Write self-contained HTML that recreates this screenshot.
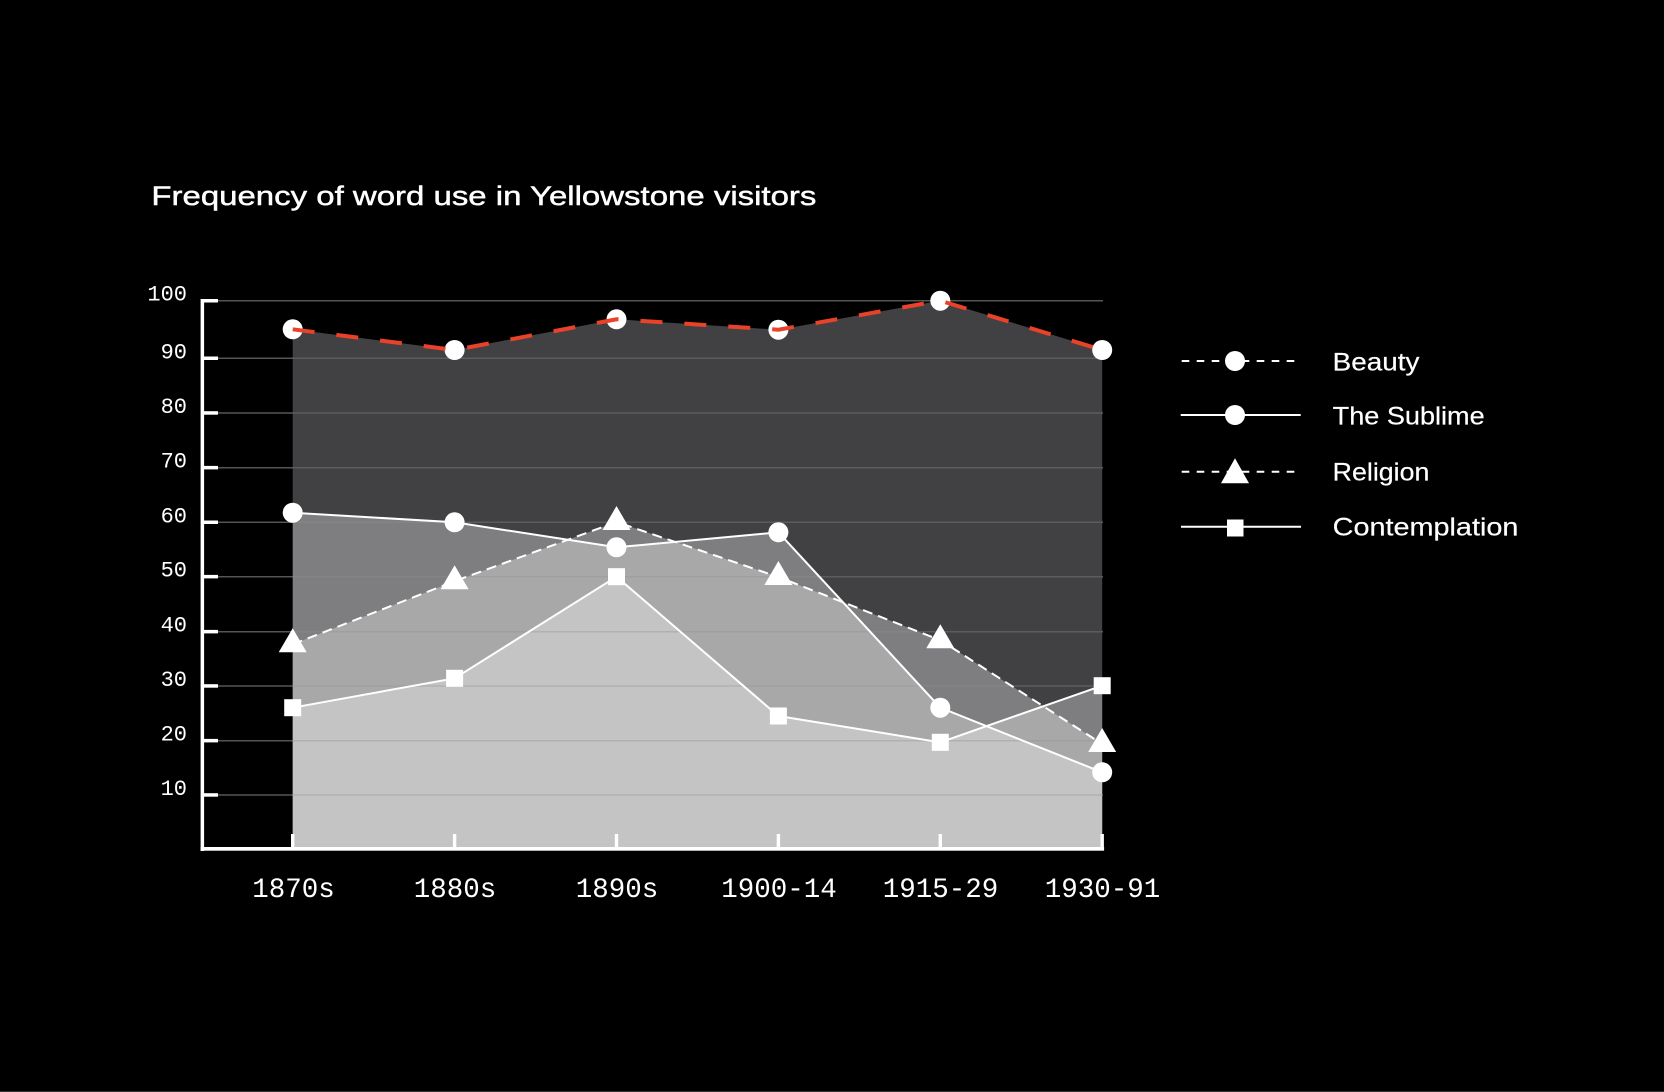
<!DOCTYPE html>
<html>
<head>
<meta charset="utf-8">
<style>
  html, body { margin:0; padding:0; background:#000; }
  body { width:1664px; height:1092px; overflow:hidden; }
  svg { display:block; }
</style>
</head>
<body>
<svg width="1664" height="1092" viewBox="0 0 1664 1092" xmlns="http://www.w3.org/2000/svg">
  <defs>
    <clipPath id="beautyClip">
      <polygon points="292.7,849 292.7,329.3 454.6,350 616.5,319.3 778.4,329.7 940.3,300.7 1102.2,350 1102.2,849"/>
    </clipPath>
  </defs>
  <rect x="0" y="0" width="1664" height="1092" fill="#000"/>
  <rect x="0" y="1091" width="1664" height="1" fill="#333"/>

  <!-- Title -->
  <text x="151.4" y="205" font-family="'Liberation Sans', sans-serif" font-size="27" fill="#fff" stroke="#fff" stroke-width="0.45" textLength="665" lengthAdjust="spacingAndGlyphs">Frequency of word use in Yellowstone visitors</text>

  <!-- gridlines on black -->
  <g stroke="#555" stroke-width="1.5">
    <line x1="204" y1="300.7" x2="1103" y2="300.7"/>
    <line x1="204" y1="358.3" x2="1103" y2="358.3"/>
    <line x1="204" y1="413" x2="1103" y2="413"/>
    <line x1="204" y1="467.7" x2="1103" y2="467.7"/>
    <line x1="204" y1="522.3" x2="1103" y2="522.3"/>
    <line x1="204" y1="576.7" x2="1103" y2="576.7"/>
    <line x1="204" y1="631.7" x2="1103" y2="631.7"/>
    <line x1="204" y1="686" x2="1103" y2="686"/>
    <line x1="204" y1="740.7" x2="1103" y2="740.7"/>
    <line x1="204" y1="795" x2="1103" y2="795"/>
  </g>

  <!-- Areas -->
  <polygon points="292.7,849 292.7,329.3 454.6,350 616.5,319.3 778.4,329.7 940.3,300.7 1102.2,350 1102.2,849" fill="rgb(65,65,68)"/>
  <polygon points="292.7,849 292.7,512.7 454.6,522.3 616.5,547.3 778.4,532.3 940.3,707.7 1102.2,772.3 1102.2,849" fill="rgba(255,255,255,0.326)"/>
  <polygon points="292.7,849 292.7,644.3 454.6,581.2 616.5,522 778.4,577 940.3,640.2 1102.2,744 1102.2,849" fill="rgba(255,255,255,0.326)"/>
  <polygon points="292.7,849 292.7,707.7 454.6,678.3 616.5,576.7 778.4,716 940.3,742.3 1102.2,685.7 1102.2,849" fill="rgba(255,255,255,0.326)"/>

  <!-- gridlines over fills -->
  <g stroke="rgba(142,142,142,0.35)" stroke-width="1.5" clip-path="url(#beautyClip)">
    <line x1="204" y1="358.3" x2="1103" y2="358.3"/>
    <line x1="204" y1="413" x2="1103" y2="413"/>
    <line x1="204" y1="467.7" x2="1103" y2="467.7"/>
    <line x1="204" y1="522.3" x2="1103" y2="522.3"/>
    <line x1="204" y1="576.7" x2="1103" y2="576.7"/>
    <line x1="204" y1="631.7" x2="1103" y2="631.7"/>
    <line x1="204" y1="686" x2="1103" y2="686"/>
    <line x1="204" y1="740.7" x2="1103" y2="740.7"/>
    <line x1="204" y1="795" x2="1103" y2="795"/>
  </g>

  <!-- Lines -->
  <polyline points="292.7,512.7 454.6,522.3 616.5,547.3 778.4,532.3 940.3,707.7 1102.2,772.3" fill="none" stroke="#fff" stroke-width="2"/>
  <polyline points="292.7,644.3 454.6,581.2 616.5,522 778.4,577 940.3,640.2 1102.2,744" fill="none" stroke="#fff" stroke-width="2" stroke-dasharray="10 6"/>
  <polyline points="292.7,707.7 454.6,678.3 616.5,576.7 778.4,716 940.3,742.3 1102.2,685.7" fill="none" stroke="#fff" stroke-width="2"/>

  <!-- Markers -->
  <g fill="#fff">
    <circle cx="292.7" cy="329.3" r="10"/>
    <circle cx="454.6" cy="350" r="10"/>
    <circle cx="616.5" cy="319.3" r="10"/>
    <circle cx="778.4" cy="329.7" r="10"/>
    <circle cx="940.3" cy="300.7" r="10"/>
    <circle cx="1102.2" cy="350" r="10"/>
    <circle cx="292.7" cy="512.7" r="10"/>
    <circle cx="454.6" cy="522.3" r="10"/>
    <circle cx="616.5" cy="547.3" r="10"/>
    <circle cx="778.4" cy="532.3" r="10"/>
    <circle cx="940.3" cy="707.7" r="10"/>
    <circle cx="1102.2" cy="772.3" r="10"/>
    <polygon points="292.7,628.3 278.7,652.3 306.7,652.3"/>
    <polygon points="454.6,565.2 440.6,589.2 468.6,589.2"/>
    <polygon points="616.5,506 602.5,530 630.5,530"/>
    <polygon points="778.4,561 764.4,585 792.4,585"/>
    <polygon points="940.3,624.2 926.3,648.2 954.3,648.2"/>
    <polygon points="1102.2,728 1088.2,752 1116.2,752"/>
    <rect x="284.2" y="699.2" width="17" height="17"/>
    <rect x="446.1" y="669.8" width="17" height="17"/>
    <rect x="608" y="568.2" width="17" height="17"/>
    <rect x="769.9" y="707.5" width="17" height="17"/>
    <rect x="931.8" y="733.8" width="17" height="17"/>
    <rect x="1093.7" y="677.2" width="17" height="17"/>
  </g>

  <!-- Beauty red dashed line on top -->
  <polyline points="292.7,329.3 454.6,350 616.5,319.3 778.4,329.7 940.3,300.7 1102.2,350" fill="none" stroke="#ea4129" stroke-width="4" stroke-dasharray="22 22"/>

  <!-- Axes -->
  <g fill="#fff">
    <rect x="200.6" y="299" width="3.5" height="552"/>
    <rect x="200.6" y="847" width="903.5" height="3.7"/>
    <rect x="202" y="299" width="16" height="3.5"/>
    <rect x="202" y="356.5" width="16" height="3.5"/>
    <rect x="202" y="411.2" width="16" height="3.5"/>
    <rect x="202" y="465.9" width="16" height="3.5"/>
    <rect x="202" y="520.5" width="16" height="3.5"/>
    <rect x="202" y="574.9" width="16" height="3.5"/>
    <rect x="202" y="629.9" width="16" height="3.5"/>
    <rect x="202" y="684.2" width="16" height="3.5"/>
    <rect x="202" y="738.9" width="16" height="3.5"/>
    <rect x="202" y="793.2" width="16" height="3.5"/>
    <rect x="291" y="834" width="3.4" height="15"/>
    <rect x="452.9" y="834" width="3.4" height="15"/>
    <rect x="614.8" y="834" width="3.4" height="15"/>
    <rect x="776.7" y="834" width="3.4" height="15"/>
    <rect x="938.6" y="834" width="3.4" height="15"/>
    <rect x="1100.5" y="834" width="3.4" height="15"/>
  </g>

  <!-- Y labels -->
  <g font-family="'Liberation Mono', monospace" font-size="22" fill="#fff" text-anchor="end">
    <text x="187" y="300.7">100</text>
    <text x="187" y="358.3">90</text>
    <text x="187" y="413">80</text>
    <text x="187" y="467.7">70</text>
    <text x="187" y="522.3">60</text>
    <text x="187" y="576.7">50</text>
    <text x="187" y="631.7">40</text>
    <text x="187" y="686">30</text>
    <text x="187" y="740.7">20</text>
    <text x="187" y="795">10</text>
  </g>

  <!-- X labels -->
  <g font-family="'Liberation Mono', monospace" font-size="27.5" fill="#fff" text-anchor="middle">
    <text x="293.5" y="897">1870s</text>
    <text x="455" y="897">1880s</text>
    <text x="617" y="897">1890s</text>
    <text x="779" y="897">1900-14</text>
    <text x="940.5" y="897">1915-29</text>
    <text x="1102.5" y="897">1930-91</text>
  </g>

  <!-- Legend -->
  <g stroke="#fff" stroke-width="2" fill="none">
    <line x1="1181.7" y1="361" x2="1296" y2="361" stroke-dasharray="7.6 7.4"/>
    <line x1="1180.7" y1="415" x2="1300.7" y2="415"/>
    <line x1="1181.7" y1="471.7" x2="1296" y2="471.7" stroke-dasharray="7.6 7.4"/>
    <line x1="1181" y1="526.7" x2="1301" y2="526.7"/>
  </g>
  <g fill="#fff">
    <circle cx="1235" cy="361" r="10"/>
    <circle cx="1235" cy="415" r="10"/>
    <polygon points="1235,458.3 1221,483.3 1249,483.3"/>
    <rect x="1227" y="519.5" width="16.5" height="17"/>
  </g>
  <g font-family="'Liberation Sans', sans-serif" font-size="25" fill="#fff" stroke="#fff" stroke-width="0.2">
    <text x="1332.7" y="370.7" textLength="86.7" lengthAdjust="spacingAndGlyphs">Beauty</text>
    <text x="1332.7" y="424.7" textLength="152" lengthAdjust="spacingAndGlyphs">The Sublime</text>
    <text x="1332.7" y="480.5" textLength="96.7" lengthAdjust="spacingAndGlyphs">Religion</text>
    <text x="1332.7" y="535.5" textLength="185.7" lengthAdjust="spacingAndGlyphs">Contemplation</text>
  </g>
</svg>
</body>
</html>
